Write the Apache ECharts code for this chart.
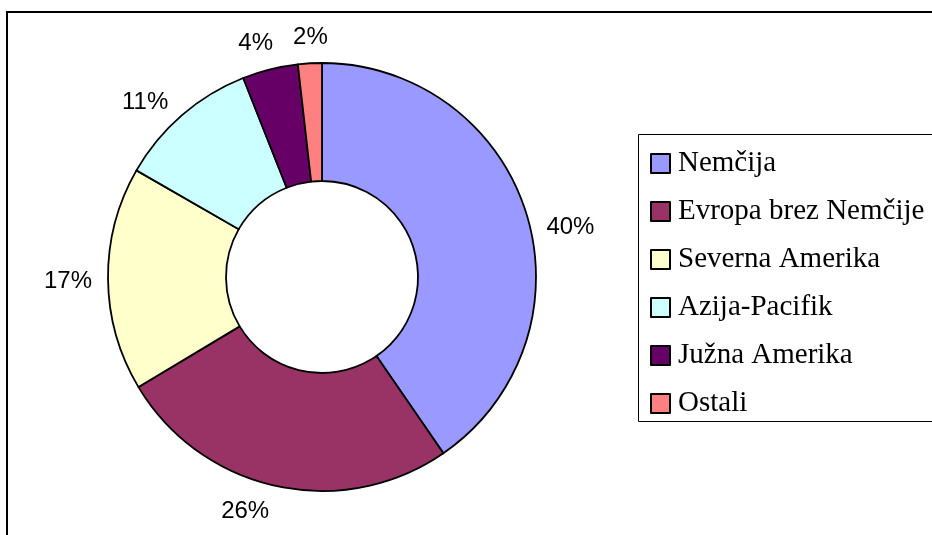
<!DOCTYPE html>
<html>
<head>
<meta charset="utf-8">
<script src="https://cdn.jsdelivr.net/npm/echarts@6/dist/echarts.min.js"></script>
<style>
html,body{margin:0;padding:0;background:#fff;}
#chart{width:932px;height:535px;}
</style>
</head>
<body>
<div id="chart"></div>
<script>
// Data
var categories = ['Nemčija', 'Evropa brez Nemčije', 'Severna Amerika', 'Azija-Pacifik', 'Južna Amerika', 'Ostali'];
var shares = [40.4, 26.0, 16.9, 10.7, 4.2, 1.8];
var colors = ['#9999FF', '#993366', '#FFFFCC', '#CCFFFF', '#660066', '#FF8080'];

// label fine offsets (style, not data)
var labelShift = [[0, 20], [-3, 5], [5, 2], [0, 3], [8, -6], [19, -5]];

var chart = echarts.init(document.getElementById('chart'), null, {renderer: 'canvas'});

var data = categories.map(function (c, i) {
  return {name: c, value: shares[i], itemStyle: {color: colors[i]}};
});

chart.setOption({
  animation: false,
  backgroundColor: '#ffffff',
  graphic: [
    {type: 'rect', shape: {x: 7, y: 12, width: 1000, height: 600},
     style: {fill: 'none', stroke: '#000', lineWidth: 2}, silent: true},
    {type: 'rect', shape: {x: 638.5, y: 134.5, width: 400, height: 287},
     style: {fill: 'none', stroke: '#000', lineWidth: 1}, silent: true}
  ],
  legend: {
    orient: 'vertical',
    left: 650,
    top: 149,
    padding: 0,
    itemWidth: 19,
    itemHeight: 19,
    itemGap: 19,
    icon: 'rect',
    textStyle: {
      fontFamily: '"Liberation Serif", "Times New Roman", serif',
      fontSize: 29,
      lineHeight: 29,
      color: '#000',
      padding: [0, 0, 0, 3]
    },
    data: categories
  },
  series: [{
    type: 'pie',
    center: [322, 277],
    radius: [96, 214],
    startAngle: 90,
    clockwise: true,
    avoidLabelOverlap: false,
    itemStyle: {borderColor: '#000', borderWidth: 1.8},
    emphasis: {disabled: true},
    label: {
      show: true,
      position: 'outside',
      distanceToLabelLine: 0,
      fontFamily: '"Liberation Sans", Arial, sans-serif',
      fontSize: 24,
      color: '#000',
      formatter: function (p) { return Math.round(p.value) + '%'; }
    },
    labelLine: {show: false, length: 21, length2: 0},
    labelLayout: function (p) {
      var s = labelShift[p.dataIndex];
      return {dx: s[0], dy: s[1]};
    },
    data: data
  }]
});
</script>
</body>
</html>
